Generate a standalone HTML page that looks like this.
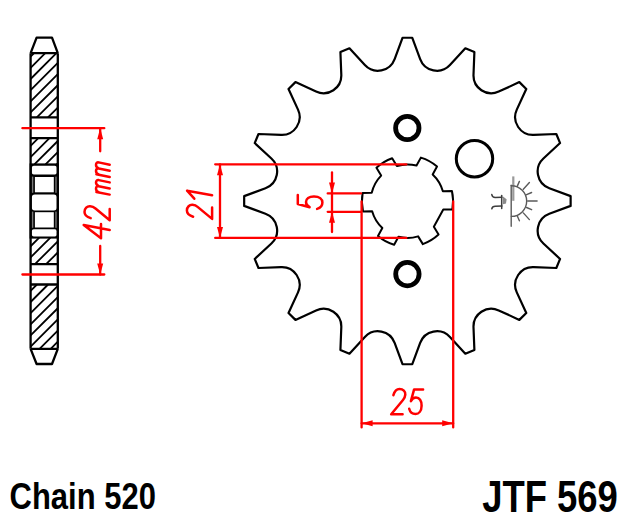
<!DOCTYPE html>
<html><head><meta charset="utf-8"><style>
html,body{margin:0;padding:0;background:#fff;}
svg{display:block;}
</style></head><body>
<svg width="630" height="524" viewBox="0 0 630 524">

<rect width="630" height="524" fill="#fff"/>

<g fill="none" stroke="#000" stroke-width="2.3" stroke-linejoin="round">
 <path d="M30.6 53.2 L36.6 37.7 L52 37.7 L57.8 53.2"/>
 <path d="M30.6 348.8 L36.6 364 L52 364 L57.8 348.8"/>
</g>
<rect x="29.6" y="163.4" width="29.199999999999996" height="75.2" fill="#000"/>
<rect x="31.8" y="165.8" width="25" height="8.8" rx="2" fill="#fff"/>
<rect x="31.6" y="176.6" width="1.7" height="16.2" fill="#7a7a7a"/>
<rect x="55.3" y="176.6" width="1.7" height="16.2" fill="#7a7a7a"/>
<rect x="34.9" y="177.0" width="18.9" height="15.3" fill="#fff"/>
<rect x="31.8" y="194.4" width="25" height="16" rx="3" fill="#fff"/>
<rect x="31.6" y="211.6" width="1.7" height="16.2" fill="#7a7a7a"/>
<rect x="55.3" y="211.6" width="1.7" height="16.2" fill="#7a7a7a"/>
<rect x="34.9" y="212.2" width="18.9" height="15.3" fill="#fff"/>
<rect x="31.8" y="229.2" width="25" height="7.4" rx="2" fill="#fff"/>
<path d="M30.60 56.70 L34.10 53.20 M30.60 67.85 L45.25 53.20 M30.60 79.00 L56.40 53.20 M30.60 90.15 L57.80 62.95 M30.60 101.30 L57.80 74.10 M30.60 112.45 L57.80 85.25 M36.80 117.40 L57.80 96.40 M47.95 117.40 L57.80 107.55" stroke="#000" stroke-width="1.8" fill="none"/><path d="M30.60 145.90 L38.30 138.20 M30.60 157.05 L49.45 138.20 M34.40 164.40 L57.80 141.00 M45.55 164.40 L57.80 152.15 M56.70 164.40 L57.80 163.30" stroke="#000" stroke-width="1.8" fill="none"/><path d="M30.60 246.25 L39.25 237.60 M30.60 257.40 L50.40 237.60 M34.95 264.20 L57.80 241.35 M46.10 264.20 L57.80 252.50 M57.25 264.20 L57.80 263.65" stroke="#000" stroke-width="1.8" fill="none"/><path d="M30.60 290.85 L36.95 284.50 M30.60 302.00 L48.10 284.50 M30.60 313.15 L57.80 285.95 M30.60 324.30 L57.80 297.10 M30.60 335.45 L57.80 308.25 M30.60 346.60 L57.80 319.40 M39.55 348.80 L57.80 330.55 M50.70 348.80 L57.80 341.70" stroke="#000" stroke-width="1.8" fill="none"/>
<g stroke="#000" stroke-width="2.3" fill="none">
 <path d="M30.6 53.2 V348.8 M57.8 53.2 V348.8"/>
 <path d="M30.6 53.2 H57.8 M30.6 117.4 H57.8 M30.6 138.2 H57.8 M30.6 264.2 H57.8 M30.6 284.5 H57.8 M30.6 348.8 H57.8"/>
</g>

<path d="M402.50 37.77 L412.30 37.77 L420.16 59.07 A17.80 17.80 0 0 0 449.93 64.99 L465.34 48.32 L474.39 52.07 L473.50 74.75 A17.80 17.80 0 0 0 498.74 91.61 L519.35 82.12 L526.28 89.05 L516.79 109.66 A17.80 17.80 0 0 0 533.65 134.90 L556.33 134.01 L560.08 143.06 L543.41 158.47 A17.80 17.80 0 0 0 549.33 188.24 L570.63 196.10 L570.63 205.90 L549.33 213.76 A17.80 17.80 0 0 0 543.41 243.53 L560.08 258.94 L556.33 267.99 L533.65 267.10 A17.80 17.80 0 0 0 516.79 292.34 L526.28 312.95 L519.35 319.88 L498.74 310.39 A17.80 17.80 0 0 0 473.50 327.25 L474.39 349.93 L465.34 353.68 L449.93 337.01 A17.80 17.80 0 0 0 420.16 342.93 L412.30 364.23 L402.50 364.23 L394.64 342.93 A17.80 17.80 0 0 0 364.87 337.01 L349.46 353.68 L340.41 349.93 L341.30 327.25 A17.80 17.80 0 0 0 316.06 310.39 L295.45 319.88 L288.52 312.95 L298.01 292.34 A17.80 17.80 0 0 0 281.15 267.10 L258.47 267.99 L254.72 258.94 L271.39 243.53 A17.80 17.80 0 0 0 265.47 213.76 L244.17 205.90 L244.17 196.10 L265.47 188.24 A17.80 17.80 0 0 0 271.39 158.47 L254.72 143.06 L258.47 134.01 L281.15 134.90 A17.80 17.80 0 0 0 298.01 109.66 L288.52 89.05 L295.45 82.12 L316.06 91.61 A17.80 17.80 0 0 0 341.30 74.75 L340.41 52.07 L349.46 48.32 L364.87 64.99 A17.80 17.80 0 0 0 394.64 59.07 L402.50 37.77 Z" fill="none" stroke="#000" stroke-width="2.2" stroke-linejoin="round"/>
<circle cx="407.3" cy="128" r="11.7" fill="none" stroke="#000" stroke-width="4.8"/>
<circle cx="407.4" cy="274.1" r="11.7" fill="none" stroke="#000" stroke-width="4.8"/>
<circle cx="474.5" cy="158.7" r="18.2" fill="none" stroke="#000" stroke-width="3"/>
<path d="M443.28 209.59 L452.36 209.38 A45.60 45.60 0 0 0 451.94 190.99 L442.86 191.20 A36.75 36.75 0 0 0 432.66 174.41 L437.02 166.44 A45.60 45.60 0 0 0 420.88 157.61 L416.52 165.57 A36.75 36.75 0 0 0 396.88 166.02 L392.16 158.26 A45.60 45.60 0 0 0 376.44 167.82 L381.15 175.58 A36.75 36.75 0 0 0 371.72 192.81 L362.64 193.02 A45.60 45.60 0 0 0 363.06 211.41 L372.14 211.20 A36.75 36.75 0 0 0 382.34 227.99 L377.98 235.96 A45.60 45.60 0 0 0 394.12 244.79 L398.48 236.83 A36.75 36.75 0 0 0 418.12 236.38 L422.84 244.14 A45.60 45.60 0 0 0 438.56 234.58 L433.85 226.82 Z" fill="none" stroke="#000" stroke-width="2" stroke-linejoin="round"/>

<rect x="512.2" y="176.4" width="2.2" height="24.4" fill="#9a9a9a"/>
<g stroke="#5a5a5a" fill="none" stroke-width="1.4" stroke-linecap="round">
 <path d="M511.2 185.3 V226.3"/>
 <path d="M511.4 185.8 A15.3 15.3 0 0 1 511.4 216.4"/>
 <path d="M527.7 201 H537.1"/>
 <path d="M526.6 194.7 L531.6 192.5 M526.6 207.5 L531.6 209.7"/>
 <path d="M523.3 189.2 L529.4 182.5 M523.3 212.9 L529.4 219.6"/>
 <path d="M517.2 186.4 L519.4 181.4 M517.2 215.8 L519.4 220.8"/>
</g>
<g stroke="#3c3c3c" fill="none" stroke-width="1.5" stroke-linecap="round">
 <path d="M491.8 194.6 Q492.3 197.4 495.2 197.4 L501.9 197.3"/>
 <path d="M491.8 208.8 Q492.3 206.2 495.2 206.2 L501.9 206.1"/>
 <path d="M501.7 195.5 V208.5"/>
</g>
<path d="M503 196.5 L506.6 199.2 L506 203.6 L503 204.2 Z" fill="#8a8a8a"/>


<g stroke="#ff0000" stroke-width="2.3" fill="none" stroke-linecap="round">
 <path d="M22.4 128.2 H104.3 M22.4 274.5 H104.3"/>
 <path d="M100.2 128.2 V151.3 M100.2 246 V274.5"/>
 <path d="M215.2 164.3 H406.4 M215.2 237.9 H406.4"/>
 <path d="M220 164.3 V237.9"/>
 <path d="M327.7 193.4 H361 M327.7 211.8 H361"/>
 <path d="M332 172.5 V232.1"/>
 <path d="M361.6 201.5 V427.4 M453.2 201.5 V427.4"/>
 <path d="M361.6 423.3 H453.2"/>
</g>
<path d="M100.20 128.20 L103.20 139.20 L97.20 139.20 Z" fill="#ff0000"/><path d="M100.20 274.50 L97.20 263.50 L103.20 263.50 Z" fill="#ff0000"/>
<path d="M220.00 164.30 L223.00 175.30 L217.00 175.30 Z" fill="#ff0000"/><path d="M220.00 237.90 L217.00 226.90 L223.00 226.90 Z" fill="#ff0000"/>
<path d="M332.00 193.40 L329.00 182.40 L335.00 182.40 Z" fill="#ff0000"/><path d="M332.00 211.80 L335.00 222.80 L329.00 222.80 Z" fill="#ff0000"/>
<path d="M361.60 423.30 L372.60 420.30 L372.60 426.30 Z" fill="#ff0000"/><path d="M453.20 423.30 L442.20 426.30 L442.20 420.30 Z" fill="#ff0000"/>
<g fill="none" stroke="#ff0000" stroke-width="2.5" stroke-linecap="round" stroke-linejoin="round">
 <path d="M9.1 0 L14 -26 L0.8 -8.7 L15 -8.7" transform="translate(109.7,239) rotate(-90)"/>
 <path d="M2.2 -19.0 C3.4 -23.2 5.6 -25.2 8.3 -25.2 C12 -25.2 14.3 -22.6 14.1 -19.6 C13.9 -17.3 12.9 -15.5 11.8 -14.2 L0 0 L11.4 0" transform="translate(109.7,220.3) rotate(-90)"/>
 <path d="M0 0 L2.7 -13.3 M2.2 -10.6 C3.1 -12.8 4.5 -13.7 5.9 -13.7 C7.6 -13.7 8.7 -12.7 8.4 -11 L6.1 0 M8.5 -10.9 C9.3 -12.9 10.6 -13.7 12 -13.7 C13.7 -13.7 14.8 -12.7 14.5 -11 L12.2 0" transform="translate(109.7,194.6) rotate(-90)"/>
 <path d="M0 0 L2.7 -13.3 M2.2 -10.6 C3.1 -12.8 4.5 -13.7 5.9 -13.7 C7.6 -13.7 8.7 -12.7 8.4 -11 L6.1 0 M8.5 -10.9 C9.3 -12.9 10.6 -13.7 12 -13.7 C13.7 -13.7 14.8 -12.7 14.5 -11 L12.2 0" transform="translate(109.7,176.9) rotate(-90)"/>
 <path d="M2.2 -19.0 C3.4 -23.2 5.6 -25.2 8.3 -25.2 C12 -25.2 14.3 -22.6 14.1 -19.6 C13.9 -17.3 12.9 -15.5 11.8 -14.2 L0 0 L11.4 0" transform="translate(212.1,218.9) rotate(-90)"/>
 <path d="M28.2 -25 L23.7 0 M28.2 -25 L20.2 -17.8" transform="translate(212.1,218.9) rotate(-90)"/>
 <path d="M14.1 -24.8 L5.1 -24.8 L1.9 -13 C3.2 -15.5 5 -16.6 7 -16.6 C10.4 -16.6 12.7 -13.7 12.6 -8.5 C12.5 -3.2 9.9 -0.2 6.5 -0.2 C3.4 -0.2 1 -2.3 0.2 -5.5" transform="translate(322.6,209.1) rotate(-90)"/>
 <path d="M2.2 -19.0 C3.4 -23.2 5.6 -25.2 8.3 -25.2 C12 -25.2 14.3 -22.6 14.1 -19.6 C13.9 -17.3 12.9 -15.5 11.8 -14.2 L0 0 L11.4 0" transform="translate(391.2,414.2)"/>
 <path d="M14.1 -24.8 L5.1 -24.8 L1.9 -13 C3.2 -15.5 5 -16.6 7 -16.6 C10.4 -16.6 12.7 -13.7 12.6 -8.5 C12.5 -3.2 9.9 -0.2 6.5 -0.2 C3.4 -0.2 1 -2.3 0.2 -5.5" transform="translate(409,414.2)"/>
</g>

<g fill="#000" font-family="'Liberation Sans', sans-serif" font-weight="bold">
 <text transform="translate(9.6,508.8) scale(0.826,1)" font-size="37.5">Chain 520</text>
 <text transform="translate(482.2,512) scale(0.828,1)" font-size="44">JTF 569</text>
</g>
</svg>
</body></html>
